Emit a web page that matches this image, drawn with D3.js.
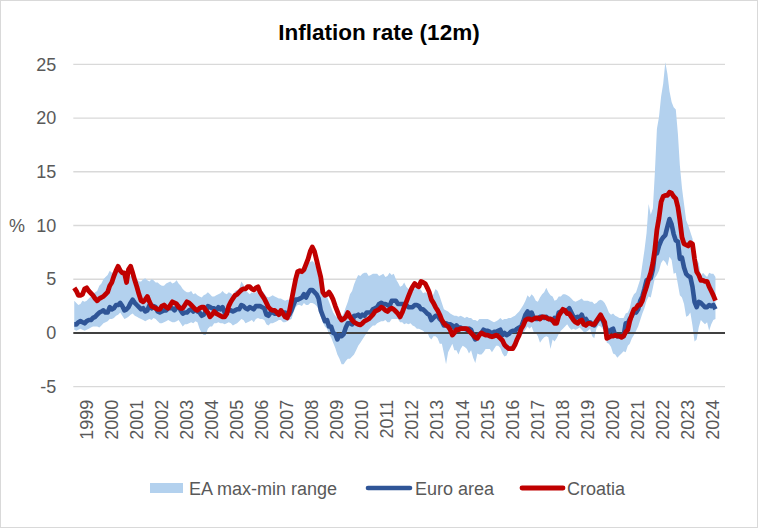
<!DOCTYPE html>
<html><head><meta charset="utf-8">
<script src="https://cdn.jsdelivr.net/npm/d3@7"></script>
<style>
body{margin:0;background:#fff}
svg{display:block}
text{font-family:"Liberation Sans",Arial,Helvetica,sans-serif}
</style>
</head><body>
<svg id="chart" width="758" height="528"></svg>
<script>
// ---- data: monthly, Jan 1999 .. Aug 2024 ----
const startYear = 1999;
const yearLabels = d3.range(1999, 2025).map(String);
const yTicks = [-5, 0, 5, 10, 15, 20, 25];
const legendLabels = ["EA max-min range", "Euro area", "Croatia"];

const euroArea = [
 0.8,0.8,1.0,1.1,1.0,0.9,1.1,1.2,1.2,1.4,1.5,1.7,
 1.9,2.0,2.1,1.9,1.9,2.4,2.2,2.3,2.6,2.6,2.8,2.5,
 2.1,2.2,2.4,2.8,3.1,2.8,2.6,2.4,2.2,2.3,2.0,2.1,
 2.6,2.3,2.5,2.4,2.0,1.9,2.0,2.1,2.1,2.3,2.3,2.3,
 2.1,2.4,2.5,2.1,1.8,1.9,1.9,2.1,2.2,2.0,2.2,2.0,
 1.9,1.6,1.7,2.0,2.5,2.4,2.3,2.3,2.1,2.4,2.2,2.4,
 1.9,2.1,2.1,2.1,2.0,2.1,2.2,2.2,2.6,2.5,2.3,2.2,
 2.4,2.3,2.2,2.5,2.5,2.5,2.4,2.3,1.7,1.6,1.9,1.9,
 1.8,1.8,1.9,1.9,1.9,1.9,1.8,1.7,2.1,2.6,3.1,3.1,
 3.2,3.3,3.6,3.3,3.7,4.0,4.0,3.8,3.6,3.2,2.1,1.6,
 1.1,1.2,0.6,0.6,0.0,-0.1,-0.6,-0.2,-0.3,-0.1,0.5,0.9,
 0.9,0.8,1.6,1.6,1.7,1.5,1.7,1.6,1.9,1.9,1.9,2.2,
 2.3,2.4,2.7,2.8,2.7,2.7,2.6,2.5,3.0,3.0,3.0,2.7,
 2.7,2.7,2.7,2.6,2.4,2.4,2.4,2.6,2.6,2.5,2.2,2.2,
 2.0,1.8,1.7,1.2,1.4,1.6,1.6,1.3,1.1,0.7,0.9,0.8,
 0.8,0.7,0.5,0.7,0.5,0.5,0.4,0.4,0.3,0.4,0.3,-0.2,
 -0.6,-0.3,-0.1,0.0,0.3,0.2,0.2,0.1,-0.1,0.1,0.1,0.2,
 0.3,-0.2,0.0,-0.2,-0.1,0.1,0.2,0.2,0.4,0.5,0.6,1.1,
 1.7,2.0,1.5,1.9,1.4,1.3,1.3,1.5,1.5,1.4,1.5,1.3,
 1.3,1.1,1.4,1.2,1.9,2.0,2.1,2.0,2.1,2.3,1.9,1.5,
 1.4,1.5,1.4,1.7,1.2,1.3,1.0,1.0,0.8,0.7,1.0,1.3,
 1.4,1.2,0.7,0.3,0.1,0.3,0.4,-0.2,-0.3,-0.3,-0.3,-0.3,
 0.9,0.9,1.3,1.6,2.0,1.9,2.2,3.0,3.4,4.1,4.9,5.0,
 5.1,5.9,7.4,7.4,8.1,8.6,8.9,9.1,9.9,10.6,10.1,9.2,
 8.6,8.5,6.9,7.0,6.1,5.5,5.3,5.2,4.3,2.9,2.4,2.9,
 2.8,2.6,2.4,2.4,2.6,2.5,2.6,2.2
];

const croatia = [
 4.2,3.9,3.5,3.5,3.6,4.1,4.2,3.9,3.7,3.5,3.2,3.0,
 3.2,3.3,3.4,3.6,3.8,4.4,4.7,5.3,5.8,6.2,5.8,5.6,
 5.6,4.7,5.9,6.2,5.6,4.9,4.3,3.6,3.0,2.9,3.1,3.4,
 2.9,2.5,2.4,2.3,2.2,2.2,2.5,2.6,2.4,2.3,2.6,2.9,
 2.8,2.7,2.4,2.3,2.3,2.6,2.9,2.8,2.6,2.4,2.2,2.1,
 2.3,2.4,2.4,2.1,1.9,1.5,1.7,2.0,1.8,1.7,1.6,1.5,
 1.5,1.8,2.5,2.9,3.2,3.5,3.6,3.8,4.0,4.1,4.1,4.3,
 4.3,4.1,4.0,4.2,4.3,3.8,3.5,3.2,2.8,2.4,2.2,2.1,
 2.1,1.9,1.7,2.1,1.8,1.5,1.4,2.0,3.0,4.0,5.0,5.7,
 5.8,5.7,5.9,6.4,6.9,7.6,8.0,7.6,6.8,6.0,5.2,3.8,
 3.5,3.6,3.8,3.5,3.1,2.5,2.0,1.5,1.2,1.3,1.5,1.9,
 1.5,1.2,1.0,0.9,0.8,0.75,0.9,1.1,1.2,1.3,1.5,1.7,
 2.0,2.1,2.2,2.4,2.3,2.1,2.0,2.2,2.3,2.2,2.0,1.8,
 1.5,1.9,2.4,2.9,3.4,3.9,4.3,4.6,4.4,4.3,4.8,4.7,
 4.6,4.2,3.8,3.1,2.8,2.4,2.1,1.7,1.2,0.9,0.7,0.6,
 0.3,-0.2,0.0,0.3,0.3,0.4,0.4,0.4,0.4,0.2,0.0,-0.2,
 -0.4,-0.5,-0.2,0.0,-0.1,-0.2,-0.2,-0.3,-0.35,-0.3,-0.2,-0.3,
 -0.5,-0.7,-1.1,-1.3,-1.45,-1.45,-1.45,-1.1,-0.6,-0.2,0.4,0.7,
 1.2,1.3,1.3,1.2,1.3,1.4,1.4,1.3,1.5,1.5,1.4,1.3,
 1.3,1.2,0.9,0.9,1.6,1.9,2.2,2.1,1.8,1.8,1.5,1.2,
 1.0,0.9,1.1,1.2,0.8,0.7,0.9,0.9,0.8,0.8,1.1,1.4,
 1.7,1.3,1.0,-0.5,-0.4,-0.3,-0.3,-0.2,-0.3,-0.3,-0.4,-0.3,
 0.1,0.3,1.1,1.7,2.2,2.3,2.6,2.6,3.0,3.7,4.3,5.0,
 5.6,6.5,7.7,9.6,10.7,12.2,12.7,12.8,12.8,13.1,13.0,12.7,
 12.5,11.7,10.5,8.9,8.3,8.2,8.1,8.4,8.3,6.9,5.7,5.4,
 4.9,4.9,4.8,4.8,4.3,3.9,3.5,3.0
];

const eaMax = [
 3.0,2.8,2.6,2.7,3.0,2.9,3.0,3.2,3.4,3.6,3.8,3.9,
 4.4,4.6,5.0,5.2,5.4,5.8,5.6,5.7,5.7,5.8,5.6,5.5,
 5.3,5.0,5.1,5.3,5.4,5.1,5.0,4.8,4.8,5.0,5.1,4.9,
 4.8,5.0,4.9,4.7,4.7,4.5,4.4,4.4,4.6,4.7,4.8,4.6,
 4.7,4.9,4.6,4.4,4.1,3.9,3.8,3.8,3.9,3.6,3.7,3.5,
 3.4,3.3,3.5,3.6,3.8,3.6,3.4,3.4,3.5,3.6,3.7,3.9,
 3.7,3.6,3.8,3.7,3.5,3.9,4.0,4.1,4.8,4.5,4.0,3.8,
 3.6,3.8,3.7,3.8,4.2,4.0,3.9,3.7,3.4,3.3,3.4,3.5,
 3.4,3.3,3.2,3.2,3.1,3.0,3.1,3.1,3.6,4.2,5.0,5.4,
 5.8,6.0,6.2,6.3,6.5,6.6,6.7,6.5,6.0,5.3,4.3,3.8,
 3.5,3.4,2.9,2.4,1.9,1.6,1.4,1.5,1.5,1.8,2.4,2.9,
 3.6,3.9,4.5,5.0,5.4,5.3,5.5,5.6,5.6,5.3,5.4,5.5,
 5.5,5.5,5.3,5.4,5.5,5.2,5.3,5.6,5.4,5.5,5.0,4.7,
 4.3,4.4,4.7,4.3,4.1,4.4,4.2,4.1,4.3,4.2,4.0,3.7,
 3.8,3.7,3.4,3.3,3.6,4.1,3.9,3.4,2.8,2.2,2.1,2.0,
 1.8,1.7,1.6,1.6,1.5,1.6,1.5,1.4,1.5,1.4,1.4,1.2,
 1.2,1.1,1.3,1.3,1.3,1.3,1.3,1.2,1.1,1.0,1.1,1.2,
 1.4,1.2,1.3,1.3,1.4,1.4,1.5,1.6,1.8,2.0,2.3,2.6,
 3.0,3.5,3.3,3.6,3.4,3.0,2.9,3.3,3.6,3.8,4.2,3.8,
 3.5,3.4,3.0,3.1,3.4,3.4,3.6,3.6,3.5,3.4,3.2,3.0,
 2.9,3.0,3.1,3.2,3.0,3.0,3.0,2.9,2.9,2.7,2.8,3.0,
 3.1,3.0,2.8,2.4,1.9,1.7,1.8,1.6,1.5,1.4,1.4,1.4,
 1.8,1.9,2.3,3.2,3.6,3.8,4.4,5.0,6.4,7.7,9.3,12.0,
 11.0,11.6,14.8,19.0,20.1,22.0,23.2,25.2,24.1,22.5,21.5,21.0,
 20.8,18.5,15.6,13.5,12.0,10.5,10.0,9.4,8.8,7.6,6.8,6.5,
 5.3,5.6,5.4,5.2,5.6,5.5,5.5,5.2
];

const eaMin = [
 0.3,0.2,0.3,0.4,0.3,0.2,0.3,0.4,0.5,0.6,0.6,0.6,
 0.5,0.7,0.9,1.0,1.1,1.3,1.3,1.4,1.6,1.7,1.9,1.6,
 1.3,1.4,1.5,1.7,1.8,1.6,1.5,1.4,1.3,1.2,1.1,1.2,
 1.3,1.2,1.4,1.3,1.1,0.9,0.9,1.0,1.1,1.2,1.1,1.0,
 1.0,1.1,1.2,0.9,0.6,0.8,0.8,0.9,1.0,0.9,1.1,1.0,
 0.4,0.0,-0.2,-0.2,0.4,0.6,0.6,0.9,0.9,1.0,0.9,0.9,
 0.8,0.9,1.0,0.9,0.7,0.8,0.9,1.1,1.3,1.2,0.9,1.0,
 1.1,1.2,1.0,1.3,1.4,1.3,1.3,1.2,0.8,0.7,0.9,0.9,
 1.0,1.1,1.2,1.2,1.0,1.0,1.1,1.2,1.3,1.9,2.4,2.6,
 2.6,2.5,2.8,2.6,2.6,2.8,2.8,2.7,2.5,2.2,1.5,1.0,
 0.6,0.4,-0.1,-0.4,-0.9,-1.4,-2.0,-2.4,-2.9,-2.9,-2.6,-2.4,
 -2.4,-2.2,-2.0,-1.6,-1.2,-0.9,-0.6,-0.3,0.0,0.3,0.5,0.7,
 0.7,0.9,1.0,1.1,1.1,1.2,1.0,1.0,1.3,1.3,1.3,1.3,
 1.0,1.0,0.8,0.9,0.8,0.9,0.7,0.6,0.4,0.4,0.3,0.2,
 0.0,0.1,-0.4,-0.6,-0.3,-0.3,-0.5,-1.0,-1.0,-1.9,-2.9,-1.8,
 -1.4,-1.0,-1.6,-1.6,-2.0,-1.5,-1.2,-1.3,-1.5,-1.9,-1.6,-2.3,
 -2.8,-1.9,-2.0,-2.0,-1.8,-1.5,-1.5,-1.5,-1.8,-1.5,-1.2,-1.2,
 -1.4,-1.9,-2.2,-2.1,-1.6,-1.6,-1.3,-1.2,-0.8,-0.6,-0.3,0.0,
 0.3,0.6,0.4,0.6,0.1,0.0,-0.3,-0.9,-0.6,-0.4,-0.3,-0.4,
 -1.5,-0.6,-0.8,-0.5,-0.1,0.2,0.4,0.6,0.8,0.5,0.3,0.4,
 0.3,0.4,0.5,0.3,0.1,0.1,0.2,0.4,-0.3,-0.5,0.4,0.7,
 0.6,0.4,0.1,-0.9,-1.0,-1.3,-1.9,-2.0,-2.3,-2.1,-1.9,-1.7,
 -1.8,-1.2,-1.0,-0.5,-0.2,0.2,0.6,1.2,1.8,2.3,3.0,3.4,
 3.3,4.2,5.1,5.4,5.8,6.5,6.8,6.6,6.2,7.1,6.8,5.5,
 5.6,4.5,3.5,3.3,2.7,1.5,1.6,1.9,0.7,-0.8,-0.6,0.5,
 1.2,1.0,0.8,1.0,0.2,0.8,1.2,1.3
];

// ---- drawing ----
const W = 758, H = 528;
const colors = { band: "#b3d1ee", ea: "#2f5597", hr: "#c00000", grid: "#d9d9d9", zero: "#404040", text: "#595959" };
const svg = d3.select("#chart");

svg.append("rect").attr("x", 0.5).attr("y", 0.5).attr("width", W - 1).attr("height", H - 1)
  .attr("fill", "#fff").attr("stroke", "#d9d9d9");

const dates = euroArea.map((_, i) => new Date(startYear, i, 15));
const rows = dates.map((d, i) => ({ date: d, ea: euroArea[i], hr: croatia[i], max: eaMax[i], min: eaMin[i] }));

const x = d3.scaleTime()
  .domain([new Date(1999, 0, 1), new Date(2025, 0, 1)])
  .range([73.3, 725]);
const y = d3.scaleLinear().domain([-5, 25]).range([386.7, 64.3]);

// title
svg.append("text").attr("x", 379).attr("y", 39.5).attr("text-anchor", "middle")
  .style("font-size", "22.5px").style("font-weight", "bold").attr("fill", "#000")
  .text("Inflation rate (12m)");

// gridlines
svg.append("g").selectAll("line").data(yTicks.filter(t => t !== 0)).join("line")
  .attr("x1", x.range()[0]).attr("x2", x.range()[1])
  .attr("y1", d => y(d)).attr("y2", d => y(d))
  .attr("stroke", colors.grid).attr("stroke-width", 1.3);

// band
svg.append("path").datum(rows)
  .attr("fill", colors.band)
  .attr("d", d3.area().x(d => x(d.date)).y0(d => y(d.min)).y1(d => y(d.max)));

// zero line
svg.append("line").attr("x1", x.range()[0]).attr("x2", x.range()[1])
  .attr("y1", y(0)).attr("y2", y(0)).attr("stroke", colors.zero).attr("stroke-width", 2);

// lines
const lineGen = key => d3.line().x(d => x(d.date)).y(d => y(d[key]));
svg.append("path").datum(rows).attr("fill", "none").attr("stroke", colors.ea)
  .attr("stroke-width", 4.6).attr("stroke-linejoin", "round").attr("d", lineGen("ea"));
svg.append("path").datum(rows).attr("fill", "none").attr("stroke", colors.hr)
  .attr("stroke-width", 4.8).attr("stroke-linejoin", "round").attr("d", lineGen("hr"));

// y axis
const yAxis = svg.append("g").attr("transform", `translate(${x.range()[0]},0)`)
  .call(d3.axisLeft(y).tickValues(yTicks).tickSize(0).tickPadding(17).tickFormat(d => String(d)));
yAxis.select(".domain").remove();
yAxis.selectAll("text").style("font-size", "18px").attr("fill", colors.text)
  .style("font-family", '"Liberation Sans",Arial,sans-serif');

svg.append("text").attr("x", 9).attr("y", y(10)).attr("dy", "0.35em")
  .style("font-size", "18px").attr("fill", colors.text).text("%");

// x axis
const labelDates = yearLabels.map(s => new Date(+s, 6, 1));
const xAxis = svg.append("g").attr("transform", `translate(0,${y(-5)})`)
  .call(d3.axisBottom(x).tickValues(labelDates).tickSize(0).tickFormat(d3.timeFormat("%Y")));
xAxis.select(".domain").remove();
xAxis.selectAll("text")
  .style("font-size", "18px").attr("fill", colors.text)
  .style("font-family", '"Liberation Sans",Arial,sans-serif')
  .attr("transform", "rotate(-90)")
  .attr("x", -13).attr("y", 0).attr("dy", "0.35em")
  .style("text-anchor", "end");

// legend
const lg = svg.append("g").style("font-size", "18px").attr("fill", colors.text);
lg.append("rect").attr("x", 150).attr("y", 483).attr("width", 33).attr("height", 10).attr("fill", colors.band);
lg.append("text").attr("x", 189).attr("y", 495).text(legendLabels[0]);
lg.append("line").attr("x1", 368).attr("x2", 410).attr("y1", 488).attr("y2", 488)
  .attr("stroke", colors.ea).attr("stroke-width", 4.6).attr("stroke-linecap", "round");
lg.append("text").attr("x", 415).attr("y", 495).text(legendLabels[1]);
lg.append("line").attr("x1", 522).attr("x2", 563).attr("y1", 488).attr("y2", 488)
  .attr("stroke", colors.hr).attr("stroke-width", 4.8).attr("stroke-linecap", "round");
lg.append("text").attr("x", 567).attr("y", 495).text(legendLabels[2]);
</script>
</body></html>
